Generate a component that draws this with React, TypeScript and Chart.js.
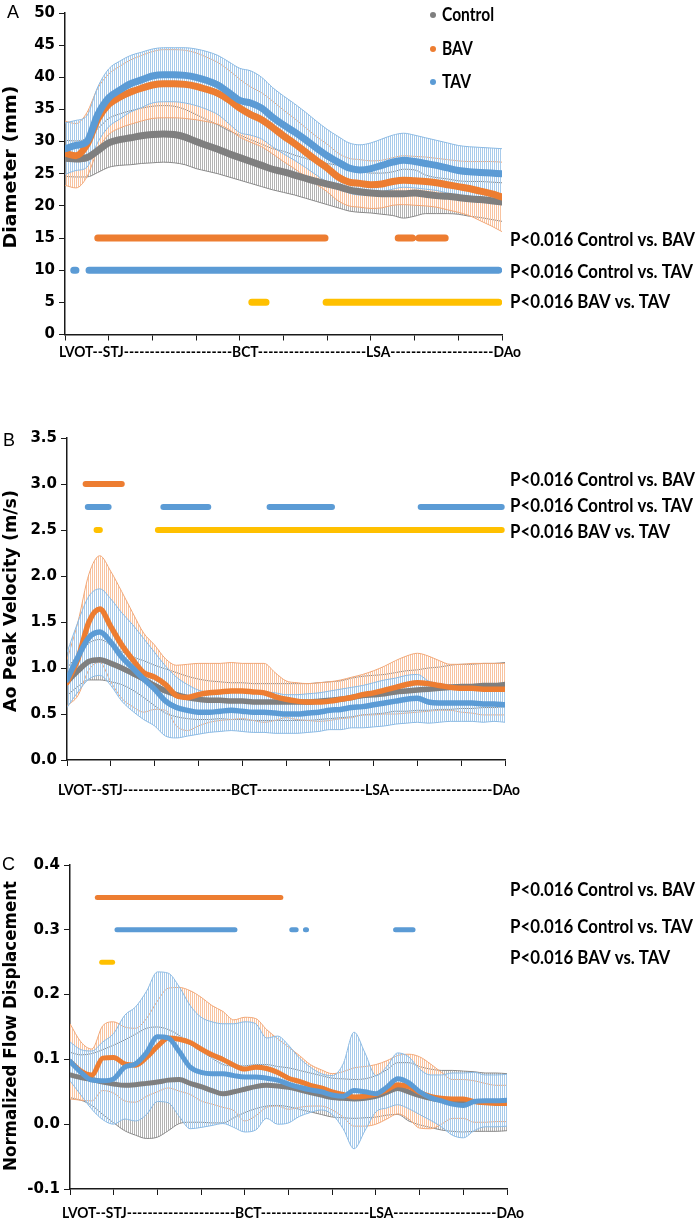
import React, { useEffect, useRef } from 'react';
import { Chart, registerables } from 'chart.js';

Chart.register(...registerables);

// ---------- shared labels ----------
const SERIES = ['Control', 'BAV', 'TAV'];
const P_LABELS = ['P<0.016 Control vs. BAV', 'P<0.016 Control vs. TAV', 'P<0.016 BAV vs. TAV'];
const X_AXIS_LABEL = 'LVOT--STJ---------------------BCT---------------------LSA--------------------DAo';

// sample positions along the aorta (0 = LVOT, 40 = DAo)
const POSITIONS = [0, 1, 2, 3, 4, 5, 6, 7, 8, 9, 10, 11, 12, 13, 14, 15, 16, 17, 18, 19, 20,
  21, 22, 23, 24, 25, 26, 27, 28, 29, 30, 31, 32, 33, 34, 35, 36, 37, 38, 39, 40];

// ---------- Panel A : Diameter (mm) ----------
const A_CONTROL_MEAN = [27.4, 27.3, 27.5, 28.6, 29.8, 30.3, 30.6, 30.9, 31.1, 31.2, 31.1, 30.7, 30.0, 29.4, 28.8, 28.1, 27.5, 26.9, 26.3, 25.7, 25.3, 24.8, 24.3, 23.8, 23.4, 23.0, 22.5, 22.2, 22.0, 21.9, 21.9, 21.9, 22.0, 21.8, 21.6, 21.5, 21.3, 21.1, 21.0, 20.8, 20.6];
const A_CONTROL_SD = [2.8, 2.8, 3.0, 3.4, 3.8, 4.0, 4.2, 4.3, 4.4, 4.4, 4.4, 4.3, 4.2, 4.0, 3.8, 3.6, 3.5, 3.4, 3.3, 3.2, 3.2, 3.1, 3.1, 3.1, 3.2, 3.3, 3.3, 3.2, 3.1, 3.2, 3.4, 3.8, 3.6, 3.0, 2.8, 2.7, 2.6, 2.7, 2.8, 2.9, 3.0];
const A_BAV_MEAN = [28.2, 27.8, 29.5, 33.5, 35.8, 36.9, 37.7, 38.3, 38.8, 39.0, 39.0, 38.9, 38.6, 38.1, 37.5, 36.5, 35.2, 34.2, 33.4, 32.2, 30.9, 29.7, 28.4, 27.1, 25.9, 24.5, 23.7, 23.5, 23.3, 23.4, 23.8, 24.0, 23.9, 23.8, 23.6, 23.3, 23.0, 22.7, 22.3, 21.9, 21.4];
const A_BAV_SD = [5.0, 5.0, 5.0, 4.8, 4.7, 4.8, 5.0, 5.1, 5.2, 5.3, 5.3, 5.3, 5.2, 5.0, 4.8, 4.6, 4.5, 4.3, 4.2, 4.1, 4.0, 3.9, 3.8, 3.7, 3.7, 3.7, 3.7, 3.7, 3.7, 3.7, 3.7, 3.8, 3.8, 3.8, 3.8, 3.9, 4.0, 4.2, 4.6, 5.0, 5.4];
const A_TAV_MEAN = [28.9, 29.4, 30.0, 34.2, 36.8, 38.0, 39.0, 39.6, 40.2, 40.4, 40.4, 40.3, 40.0, 39.5, 38.8, 37.6, 36.4, 36.0, 35.2, 33.8, 32.6, 31.5, 30.3, 29.0, 27.8, 26.8, 25.9, 25.6, 25.8, 26.3, 26.8, 27.1, 26.9, 26.6, 26.3, 25.9, 25.5, 25.3, 25.2, 25.1, 25.0];
const A_TAV_SD = [4.0, 3.9, 4.0, 4.3, 4.5, 4.5, 4.4, 4.3, 4.2, 4.2, 4.2, 4.3, 4.4, 4.5, 4.6, 4.8, 5.0, 5.0, 4.8, 4.6, 4.5, 4.4, 4.3, 4.2, 4.1, 4.0, 3.9, 3.9, 4.0, 4.1, 4.2, 4.2, 4.1, 4.0, 3.9, 3.9, 3.9, 3.9, 3.9, 3.9, 3.9];
const A_SIG_LEVELS = [15, 10, 5];
const A_SIG_CONTROL_BAV = [[3.0, 23.8], [30.5, 31.8], [32.4, 34.8]];
const A_SIG_CONTROL_TAV = [[0.8, 1.0], [2.2, 39.7]];
const A_SIG_BAV_TAV = [[17.1, 18.4], [23.9, 39.7]];

// ---------- Panel B : Ao Peak Velocity (m/s) ----------
const B_CONTROL_MEAN = [0.85, 0.97, 1.07, 1.09, 1.05, 1.00, 0.94, 0.88, 0.81, 0.75, 0.71, 0.68, 0.66, 0.65, 0.65, 0.64, 0.64, 0.63, 0.63, 0.63, 0.63, 0.63, 0.63, 0.64, 0.65, 0.66, 0.68, 0.70, 0.71, 0.72, 0.74, 0.75, 0.76, 0.77, 0.78, 0.79, 0.80, 0.80, 0.81, 0.81, 0.82];
const B_CONTROL_SD = [0.15, 0.17, 0.20, 0.22, 0.20, 0.18, 0.18, 0.20, 0.22, 0.24, 0.24, 0.23, 0.22, 0.21, 0.20, 0.20, 0.20, 0.20, 0.20, 0.20, 0.20, 0.20, 0.20, 0.20, 0.20, 0.20, 0.21, 0.21, 0.21, 0.21, 0.21, 0.22, 0.22, 0.23, 0.23, 0.24, 0.24, 0.24, 0.24, 0.24, 0.24];
const B_BAV_MEAN = [0.84, 1.10, 1.50, 1.64, 1.45, 1.25, 1.09, 0.95, 0.90, 0.82, 0.70, 0.68, 0.71, 0.73, 0.74, 0.75, 0.75, 0.74, 0.73, 0.69, 0.66, 0.64, 0.63, 0.63, 0.64, 0.66, 0.68, 0.71, 0.73, 0.76, 0.79, 0.82, 0.84, 0.83, 0.81, 0.79, 0.78, 0.78, 0.77, 0.77, 0.77];
const B_BAV_SD = [0.25, 0.40, 0.52, 0.58, 0.60, 0.58, 0.51, 0.43, 0.35, 0.28, 0.33, 0.36, 0.34, 0.32, 0.31, 0.31, 0.30, 0.31, 0.32, 0.26, 0.20, 0.20, 0.20, 0.21, 0.21, 0.21, 0.22, 0.22, 0.24, 0.26, 0.29, 0.31, 0.32, 0.30, 0.27, 0.25, 0.26, 0.27, 0.28, 0.28, 0.28];
const B_TAV_MEAN = [0.87, 1.12, 1.33, 1.39, 1.28, 1.12, 1.00, 0.88, 0.77, 0.64, 0.57, 0.54, 0.52, 0.52, 0.53, 0.54, 0.53, 0.52, 0.52, 0.51, 0.50, 0.50, 0.51, 0.52, 0.54, 0.55, 0.57, 0.58, 0.60, 0.62, 0.64, 0.66, 0.67, 0.63, 0.62, 0.62, 0.62, 0.62, 0.61, 0.61, 0.60];
const B_TAV_SD = [0.30, 0.38, 0.45, 0.47, 0.47, 0.48, 0.47, 0.44, 0.40, 0.38, 0.33, 0.28, 0.24, 0.22, 0.22, 0.22, 0.22, 0.22, 0.22, 0.22, 0.21, 0.21, 0.21, 0.21, 0.21, 0.22, 0.22, 0.23, 0.24, 0.25, 0.25, 0.26, 0.26, 0.23, 0.21, 0.20, 0.20, 0.20, 0.20, 0.19, 0.19];
const B_SIG_LEVELS = [3.0, 2.75, 2.5];
const B_SIG_CONTROL_BAV = [[1.7, 5.0]];
const B_SIG_CONTROL_TAV = [[1.9, 3.8], [8.8, 12.9], [18.5, 24.2], [32.3, 39.7]];
const B_SIG_BAV_TAV = [[2.7, 3.0], [8.3, 39.7]];

// ---------- Panel C : Normalized Flow Displacement ----------
const C_CONTROL_MEAN = [0.076, 0.072, 0.069, 0.065, 0.062, 0.060, 0.061, 0.063, 0.065, 0.068, 0.069, 0.063, 0.058, 0.052, 0.047, 0.050, 0.054, 0.058, 0.060, 0.059, 0.057, 0.053, 0.049, 0.045, 0.041, 0.040, 0.039, 0.040, 0.043, 0.049, 0.055, 0.050, 0.044, 0.040, 0.037, 0.036, 0.035, 0.035, 0.034, 0.034, 0.034];
const C_CONTROL_SD = [0.035, 0.035, 0.040, 0.050, 0.060, 0.070, 0.078, 0.085, 0.085, 0.078, 0.068, 0.060, 0.055, 0.050, 0.045, 0.040, 0.036, 0.034, 0.032, 0.030, 0.030, 0.030, 0.030, 0.030, 0.030, 0.030, 0.030, 0.030, 0.032, 0.035, 0.040, 0.045, 0.045, 0.045, 0.046, 0.047, 0.047, 0.046, 0.045, 0.045, 0.044];
const C_BAV_MEAN = [0.097, 0.082, 0.076, 0.102, 0.103, 0.093, 0.091, 0.103, 0.120, 0.133, 0.131, 0.126, 0.116, 0.107, 0.100, 0.091, 0.085, 0.088, 0.086, 0.080, 0.071, 0.066, 0.060, 0.056, 0.050, 0.046, 0.042, 0.043, 0.046, 0.053, 0.061, 0.058, 0.049, 0.043, 0.040, 0.039, 0.039, 0.035, 0.033, 0.032, 0.032];
const C_BAV_SD = [0.058, 0.045, 0.040, 0.050, 0.055, 0.057, 0.057, 0.060, 0.070, 0.077, 0.080, 0.080, 0.080, 0.076, 0.074, 0.070, 0.080, 0.075, 0.060, 0.052, 0.048, 0.040, 0.032, 0.028, 0.028, 0.035, 0.045, 0.046, 0.046, 0.045, 0.045, 0.050, 0.055, 0.050, 0.040, 0.030, 0.030, 0.032, 0.030, 0.028, 0.028];
const C_TAV_MEAN = [0.097, 0.080, 0.068, 0.067, 0.070, 0.088, 0.093, 0.110, 0.135, 0.133, 0.112, 0.088, 0.080, 0.078, 0.078, 0.075, 0.073, 0.073, 0.071, 0.068, 0.062, 0.057, 0.053, 0.050, 0.045, 0.043, 0.052, 0.050, 0.047, 0.057, 0.070, 0.064, 0.050, 0.041, 0.036, 0.031, 0.029, 0.035, 0.036, 0.036, 0.037];
const C_TAV_SD = [0.030, 0.035, 0.045, 0.060, 0.070, 0.080, 0.088, 0.095, 0.100, 0.100, 0.100, 0.095, 0.085, 0.080, 0.077, 0.080, 0.085, 0.082, 0.062, 0.068, 0.060, 0.045, 0.035, 0.028, 0.030, 0.050, 0.090, 0.060, 0.028, 0.032, 0.040, 0.040, 0.035, 0.035, 0.040, 0.048, 0.050, 0.045, 0.040, 0.040, 0.040];
const C_SIG_LEVELS = [0.35, 0.30, 0.25];
const C_SIG_CONTROL_BAV = [[2.5, 19.3]];
const C_SIG_CONTROL_TAV = [[4.3, 15.1], [20.3, 20.7], [21.55, 21.65], [29.8, 31.4]];
const C_SIG_BAV_TAV = [[2.9, 3.9]];

// ---------- styling ----------
const LINE_COLORS = ['#7f7f7f', '#ed7d31', '#5b9bd5'];
const BOUND_COLORS = ['#8a8a8a', '#f2a878', '#8dbbe4'];
const HATCH_COLORS = ['#b3b3b3', '#f8c3a0', '#a8cbeb'];
const SIG_COLORS = ['#ed7d31', '#5b9bd5', '#ffc000'];

type PanelCfg = {
  letter: string;
  top: number; height: number;
  plotTop: number; plotBottom: number; plotLeft: number; plotRight: number;
  yMin: number; yMax: number; yStep: number; decimals: number;
  means: number[][]; sds: number[][];
  sig: number[][][]; sigLevels: number[]; sigWidth: number; meanWidth: number;
  letterX: number; letterY: number;
  yTitle: string; yTitleCenter: number; yTitleLen: number;
  pLabelY: number[]; xLabelX: number; xLabelY: number;
  legend: boolean;
};

const PANELS: PanelCfg[] = [
  {
    letter: 'A', top: 0, height: 380, plotTop: 12, plotBottom: 334.5, plotLeft: 65, plotRight: 502,
    yMin: 0, yMax: 50, yStep: 5, decimals: 0,
    means: [A_CONTROL_MEAN, A_BAV_MEAN, A_TAV_MEAN], sds: [A_CONTROL_SD, A_BAV_SD, A_TAV_SD],
    sig: [A_SIG_CONTROL_BAV, A_SIG_CONTROL_TAV, A_SIG_BAV_TAV], sigLevels: A_SIG_LEVELS, sigWidth: 7, meanWidth: 7,
    letterX: 7, letterY: 13, yTitle: 'Diameter (mm)', yTitleCenter: 167, yTitleLen: 163,
    pLabelY: [240, 272, 302], xLabelX: 59, xLabelY: 352, legend: true,
  },
  {
    letter: 'B', top: 380, height: 420, plotTop: 438, plotBottom: 760, plotLeft: 67, plotRight: 505,
    yMin: 0, yMax: 3.5, yStep: 0.5, decimals: 1,
    means: [B_CONTROL_MEAN, B_BAV_MEAN, B_TAV_MEAN], sds: [B_CONTROL_SD, B_BAV_SD, B_TAV_SD],
    sig: [B_SIG_CONTROL_BAV, B_SIG_CONTROL_TAV, B_SIG_BAV_TAV], sigLevels: B_SIG_LEVELS, sigWidth: 6, meanWidth: 5.5,
    letterX: 3, letterY: 441, yTitle: 'Ao Peak Velocity (m/s)', yTitleCenter: 601, yTitleLen: 222,
    pLabelY: [480, 506, 532], xLabelX: 58, xLabelY: 790, legend: false,
  },
  {
    letter: 'C', top: 800, height: 426, plotTop: 865, plotBottom: 1189, plotLeft: 70, plotRight: 507,
    yMin: -0.1, yMax: 0.4, yStep: 0.1, decimals: 1,
    means: [C_CONTROL_MEAN, C_BAV_MEAN, C_TAV_MEAN], sds: [C_CONTROL_SD, C_BAV_SD, C_TAV_SD],
    sig: [C_SIG_CONTROL_BAV, C_SIG_CONTROL_TAV, C_SIG_BAV_TAV], sigLevels: C_SIG_LEVELS, sigWidth: 5, meanWidth: 5,
    letterX: 2, letterY: 865, yTitle: 'Normalized Flow Displacement', yTitleCenter: 1026, yTitleLen: 290,
    pLabelY: [890, 927, 958], xLabelX: 62, xLabelY: 1213, legend: false,
  },
];

function makeHatch(ctx: CanvasRenderingContext2D, color: string) {
  const c = document.createElement('canvas');
  c.width = 2; c.height = 1;
  const g = c.getContext('2d')!;
  g.fillStyle = color;
  g.fillRect(0, 0, 1, 1);
  return ctx.createPattern(c, 'repeat');
}

function decorPlugin(p: PanelCfg) {
  return {
    id: 'decor' + p.letter,
    afterDraw(chart: any) {
      const ctx: CanvasRenderingContext2D = chart.ctx;
      const off = p.top;
      ctx.save();
      ctx.fillStyle = '#000';
      ctx.textBaseline = 'middle';

      // panel letter
      ctx.font = '18px "Liberation Sans", Arial, sans-serif';
      ctx.textAlign = 'left';
      ctx.fillText(p.letter, p.letterX, p.letterY - off);

      // y-axis title
      ctx.font = 'bold 17px "DejaVu Sans", Verdana, sans-serif';
      const tw = ctx.measureText(p.yTitle).width;
      ctx.save();
      ctx.translate(12, p.yTitleCenter - off);
      ctx.rotate(-Math.PI / 2);
      ctx.scale(p.yTitleLen / tw, 1);
      ctx.textAlign = 'center';
      ctx.fillText(p.yTitle, 0, 0);
      ctx.restore();

      // significance labels
      ctx.font = 'bold 18px Lato, "Open Sans", sans-serif';
      const ps = 185 / ctx.measureText(P_LABELS[0]).width;
      P_LABELS.forEach((t, k) => {
        ctx.save();
        ctx.translate(510, p.pLabelY[k] - off);
        ctx.scale(ps, 1);
        ctx.textAlign = 'left';
        ctx.fillText(t, 0, 0);
        ctx.restore();
      });

      // x-axis label
      ctx.font = 'bold 15px Lato, "Open Sans", sans-serif';
      const xs = 462 / ctx.measureText(X_AXIS_LABEL).width;
      ctx.save();
      ctx.translate(p.xLabelX, p.xLabelY - off);
      ctx.scale(xs, 1);
      ctx.textAlign = 'left';
      ctx.fillText(X_AXIS_LABEL, 0, 0);
      ctx.restore();

      // legend
      if (p.legend) {
        const ly = [15, 49, 82];
        ctx.font = 'bold 18px Lato, "Open Sans", sans-serif';
        const ls = 52 / ctx.measureText(SERIES[0]).width;
        SERIES.forEach((name, k) => {
          ctx.fillStyle = LINE_COLORS[k];
          ctx.beginPath();
          ctx.arc(433, ly[k] - off, 3, 0, Math.PI * 2);
          ctx.fill();
          ctx.fillStyle = '#000';
          ctx.save();
          ctx.translate(442, ly[k] - off);
          ctx.scale(ls, 1);
          ctx.textAlign = 'left';
          ctx.fillText(name, 0, 0);
          ctx.restore();
        });
      }
      ctx.restore();
    },
  };
}

function Panel({ p }: { p: PanelCfg }) {
  const ref = useRef<HTMLCanvasElement | null>(null);

  useEffect(() => {
    const canvas = ref.current!;
    const ctx = canvas.getContext('2d')!;
    const hatches = HATCH_COLORS.map((c) => makeHatch(ctx, c));
    const datasets: any[] = [];

    // error bands (mean ± SD), drawn underneath
    p.means.forEach((mean, s) => {
      const sd = p.sds[s];
      const upper = POSITIONS.map((x, i) => ({ x, y: mean[i] + sd[i] }));
      const lower = POSITIONS.map((x, i) => ({ x, y: mean[i] - sd[i] }));
      const baseOrder = 20 + (2 - s) * 2;
      datasets.push({
        label: SERIES[s] + ' +SD', data: upper, borderColor: BOUND_COLORS[s], borderWidth: 1,
        pointRadius: 0, fill: false, cubicInterpolationMode: 'monotone', order: baseOrder,
      });
      datasets.push({
        label: SERIES[s] + ' -SD', data: lower, borderColor: BOUND_COLORS[s], borderWidth: 1,
        pointRadius: 0, fill: '-1', backgroundColor: hatches[s], cubicInterpolationMode: 'monotone', order: baseOrder + 1,
      });
    });

    // mean lines
    p.means.forEach((mean, s) => {
      datasets.push({
        label: SERIES[s], data: POSITIONS.map((x, i) => ({ x, y: mean[i] })),
        borderColor: LINE_COLORS[s], borderWidth: p.meanWidth, pointRadius: 0, fill: false,
        cubicInterpolationMode: 'monotone', order: 10 + (2 - s), borderCapStyle: 'round', borderJoinStyle: 'round',
      });
    });

    // significance bars
    p.sig.forEach((segs, k) => {
      const data: any[] = [];
      segs.forEach(([a, b]) => {
        data.push({ x: a, y: p.sigLevels[k] }, { x: b, y: p.sigLevels[k] }, { x: b, y: null });
      });
      datasets.push({
        label: P_LABELS[k], data, borderColor: SIG_COLORS[k], borderWidth: p.sigWidth,
        borderCapStyle: 'round', pointRadius: 0, spanGaps: false, fill: false, tension: 0, order: k,
      });
    });

    const axisColor = '#1a1a1a';
    const chart = new Chart(ctx, {
      type: 'line',
      data: { datasets },
      options: {
        responsive: false,
        animation: false,
        devicePixelRatio: 1,
        layout: { padding: { top: p.plotTop - p.top, right: 700 - p.plotRight, bottom: 0, left: 0 } },
        plugins: { legend: { display: false }, tooltip: { enabled: false }, filler: { propagate: false } },
        scales: {
          x: {
            type: 'linear', min: 0, max: 40,
            afterFit: (s: any) => { s.height = p.height - (p.plotBottom - p.top); },
            ticks: { stepSize: 4, callback: () => '', autoSkip: false, maxRotation: 0 },
            grid: { drawOnChartArea: false, drawTicks: true, tickLength: 6, color: axisColor, lineWidth: 1 },
            border: { display: true, color: axisColor, width: 1.5 },
          },
          y: {
            type: 'linear', min: p.yMin, max: p.yMax,
            afterFit: (s: any) => { s.width = p.plotLeft; },
            ticks: {
              stepSize: p.yStep,
              callback: (v: any) => Number(v).toFixed(p.decimals),
              font: { family: '"DejaVu Sans", Verdana, sans-serif', weight: 'bold', size: 15 },
              color: '#000', padding: 4,
            },
            grid: { drawOnChartArea: false, drawTicks: true, tickLength: 6, color: axisColor, lineWidth: 1 },
            border: { display: true, color: axisColor, width: 1.5 },
          },
        },
      },
      plugins: [decorPlugin(p)],
    } as any);
    return () => chart.destroy();
  }, []);

  return (
    <canvas
      ref={ref}
      width={700}
      height={p.height}
      style={{ position: 'absolute', left: 0, top: p.top, width: 700, height: p.height }}
    />
  );
}

export default function App() {
  return (
    <div style={{ position: 'absolute', left: 0, top: 0, width: 700, height: 1226, background: '#fff', overflow: 'hidden' }}>
      {PANELS.map((p) => (
        <Panel key={p.letter} p={p} />
      ))}
    </div>
  );
}
